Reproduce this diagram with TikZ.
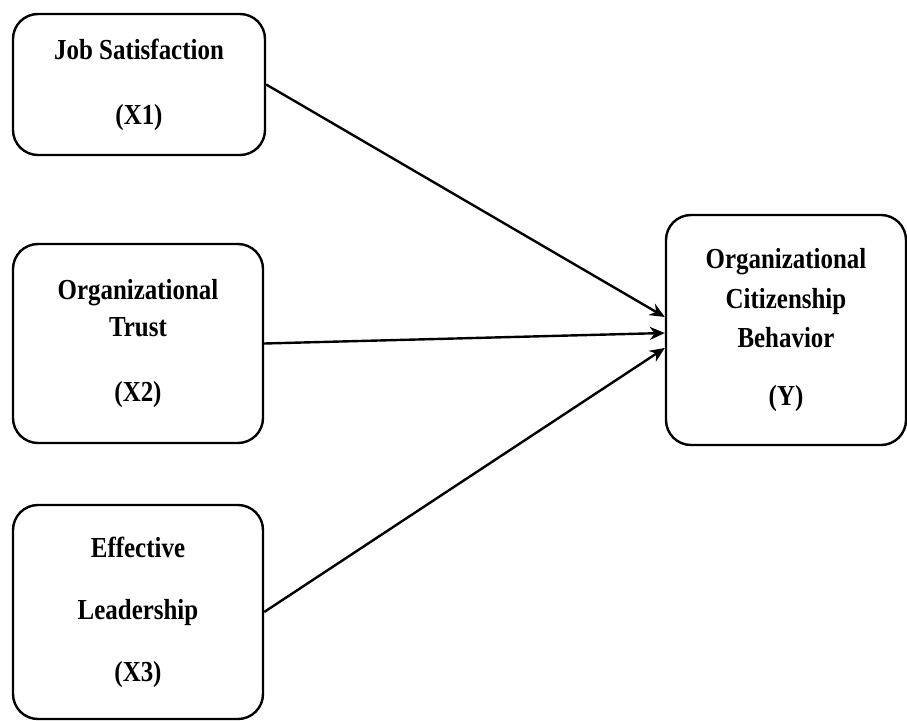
\documentclass[tikz,border=0pt]{standalone}
\usepackage{fontspec}
\setmainfont[FakeStretch=0.86]{Liberation Serif}
\usetikzlibrary{shapes.geometric, arrows, arrows.meta}
\usetikzlibrary{calc, shapes, backgrounds}
\tikzstyle{varbox} = [rectangle, rounded corners=25pt, line width=2.4pt, draw=black, fill=white, align=center, inner sep=0pt, font=\fontsize{29}{37}\selectfont\bfseries]
\tikzstyle{arrow} = [line width=2.4pt,->,>={Stealth[length=15pt,width=13pt]}]

\begin{document}
\begin{tikzpicture}[x=1pt, y=-1pt]
			\useasboundingbox (0,0) rectangle (907,720);
			\node(jobsat)[varbox, minimum width=252pt, minimum height=141pt] at (139,84.5) {Job Satisfaction\\[28pt](X1)};
			\node(orgtrust)[varbox, minimum width=250pt, minimum height=199pt] at (138,343.5) {Organizational\\Trust\\[28pt](X2)};
			\node(effleader)[varbox, minimum width=250pt, minimum height=214pt] at (138,612) {Effective\\[25pt]Leadership\\[25pt](X3)};
			\node(ocb)[varbox, minimum width=240pt, minimum height=230pt] at (786,330) {Organizational\\[3pt]Citizenship\\[2pt]Behavior\\[21pt](Y)};

			\draw [arrow] (jobsat.east) -- ([yshift=13pt]ocb.west);
			\draw [arrow] (orgtrust.east) -- ([yshift=-3pt]ocb.west);
			\draw [arrow] (effleader.east) -- ([yshift=-18pt]ocb.west);
		\end{tikzpicture}
\end{document}
